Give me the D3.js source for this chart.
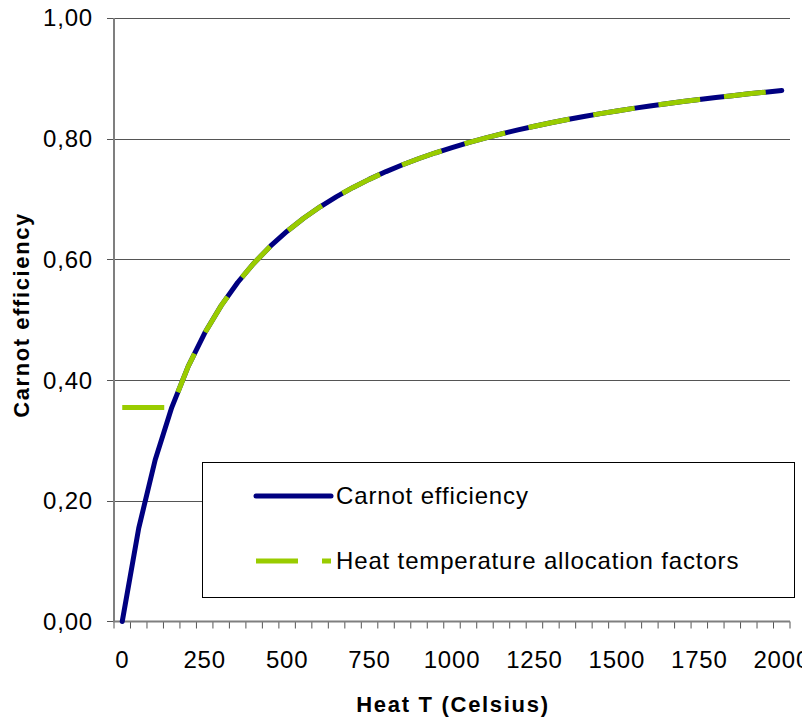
<!DOCTYPE html>
<html><head><meta charset="utf-8">
<script src="https://cdn.jsdelivr.net/npm/d3@7"></script>
<style>body{margin:0;background:#fff}svg{display:block}text{font-family:Arial,"Liberation Sans",sans-serif;fill:#000}</style>
</head><body><div id="c"></div>
<script>
const temps = [0,50,100,150,200,250,300,350,400,450,500,550,600,650,700,750,800,850,900,950,1000,1050,1100,1150,1200,1250,1300,1350,1400,1450,1500,1550,1600,1650,1700,1750,1800,1850,1900,1950,2000];
const carnot = [0,0.1547,0.2680,0.3545,0.4227,0.4779,0.5234,0.5617,0.5942,0.6223,0.6467,0.6682,0.6872,0.7041,0.7193,0.7330,0.7455,0.7568,0.7672,0.7767,0.7854,0.7936,0.8011,0.8081,0.8146,0.8207,0.8264,0.8317,0.8367,0.8415,0.8460,0.8502,0.8542,0.8580,0.8616,0.8650,0.8682,0.8713,0.8743,0.8771,0.8798];
const allocation = [0.3545,0.3545,0.3545,0.3545,0.4227,0.4779,0.5234,0.5617,0.5942,0.6223,0.6467,0.6682,0.6872,0.7041,0.7193,0.7330,0.7455,0.7568,0.7672,0.7767,0.7854,0.7936,0.8011,0.8081,0.8146,0.8207,0.8264,0.8317,0.8367,0.8415,0.8460,0.8502,0.8542,0.8580,0.8616,0.8650,0.8682,0.8713,0.8743,0.8771,0.8798];
const xLabels = [0,250,500,750,1000,1250,1500,1750,2000];
const yTicks = [0,0.2,0.4,0.6,0.8,1.0];
const seriesNames = ["Carnot efficiency","Heat temperature allocation factors"];
const colors = ["#000080","#99CC00"];

const W=802,H=720;
const svg=d3.select("#c").append("svg").attr("width",W).attr("height",H);
const x=d3.scaleBand().domain(temps).range([114,790]);
const y=d3.scaleLinear().domain([0,1]).range([621.5,18]);
const cx=t=>x(t)+x.bandwidth()/2;
const fmt=v=>d3.format(".2f")(v).replace(".",",");

// gridlines + y ticks
svg.append("g").selectAll("line").data(yTicks.filter(d=>d>0)).join("line")
  .attr("x1",107).attr("x2",790).attr("y1",d=>Math.round(y(d))+0.5).attr("y2",d=>Math.round(y(d))+0.5)
  .attr("stroke","#555").attr("stroke-width",1);
svg.append("line").attr("x1",107).attr("x2",114).attr("y1",y(0)).attr("y2",y(0)).attr("stroke","#555");
// y labels
svg.append("g").selectAll("text").data(yTicks).join("text")
  .attr("x",93).attr("y",d=>y(d)).attr("dy","0.35em").attr("text-anchor","end")
  .style("font-size","24px").style("letter-spacing","0.8px").text(fmt);
// x ticks
const bounds=temps.map(t=>x(t)).concat([x.range()[1]]);
svg.append("g").selectAll("line").data(bounds).join("line")
  .attr("x1",d=>d).attr("x2",d=>d).attr("y1",y(0)).attr("y2",y(0)+7).attr("stroke","#555");
// axes
svg.append("line").attr("x1",114).attr("x2",114).attr("y1",18).attr("y2",622).attr("stroke","#7f7f7f").attr("stroke-width",2);
svg.append("line").attr("x1",113).attr("x2",790).attr("y1",y(0)).attr("y2",y(0)).attr("stroke","#7f7f7f").attr("stroke-width",2);
// x labels
svg.append("g").selectAll("text").data(xLabels).join("text")
  .attr("x",d=>cx(d)).attr("y",668).attr("text-anchor","middle")
  .style("font-size","24px").style("letter-spacing","0.8px").text(d=>d);
// titles
svg.append("text").attr("x",453).attr("y",712).attr("text-anchor","middle")
  .style("font-size","22px").style("font-weight","bold").style("letter-spacing","1.7px").text("Heat T (Celsius)");
svg.append("text").attr("transform","translate(29,315) rotate(-90)").attr("text-anchor","middle")
  .style("font-size","22px").style("font-weight","bold").style("letter-spacing","1.6px").text("Carnot efficiency");

// lines
const line=d3.line().x((d,i)=>cx(temps[i])).y(d=>y(d));
svg.append("path").attr("d",line(carnot)).attr("fill","none").attr("stroke",colors[0])
  .attr("stroke-width",5).attr("stroke-linejoin","round").attr("stroke-linecap","round");
svg.append("path").attr("d",line(allocation)).attr("fill","none").attr("stroke",colors[1])
  .attr("stroke-width",5).attr("stroke-dasharray","42,24");

// legend
const lg=svg.append("g");
lg.append("rect").attr("x",202.5).attr("y",462.5).attr("width",592).attr("height",135).attr("fill","#fff").attr("stroke","#000").attr("stroke-width",1);
const ly=[496,561];
seriesNames.forEach((n,i)=>{
  const l=lg.append("line").attr("x1",256).attr("x2",331).attr("y1",ly[i]).attr("y2",ly[i])
    .attr("stroke",colors[i]).attr("stroke-width",5);
  if(i===0) l.attr("stroke-linecap","round"); else l.attr("stroke-dasharray","42,24");
  lg.append("text").attr("x",336).attr("y",ly[i]+8).style("font-size","24px").style("letter-spacing","0.85px").text(n);
});
</script></body></html>
